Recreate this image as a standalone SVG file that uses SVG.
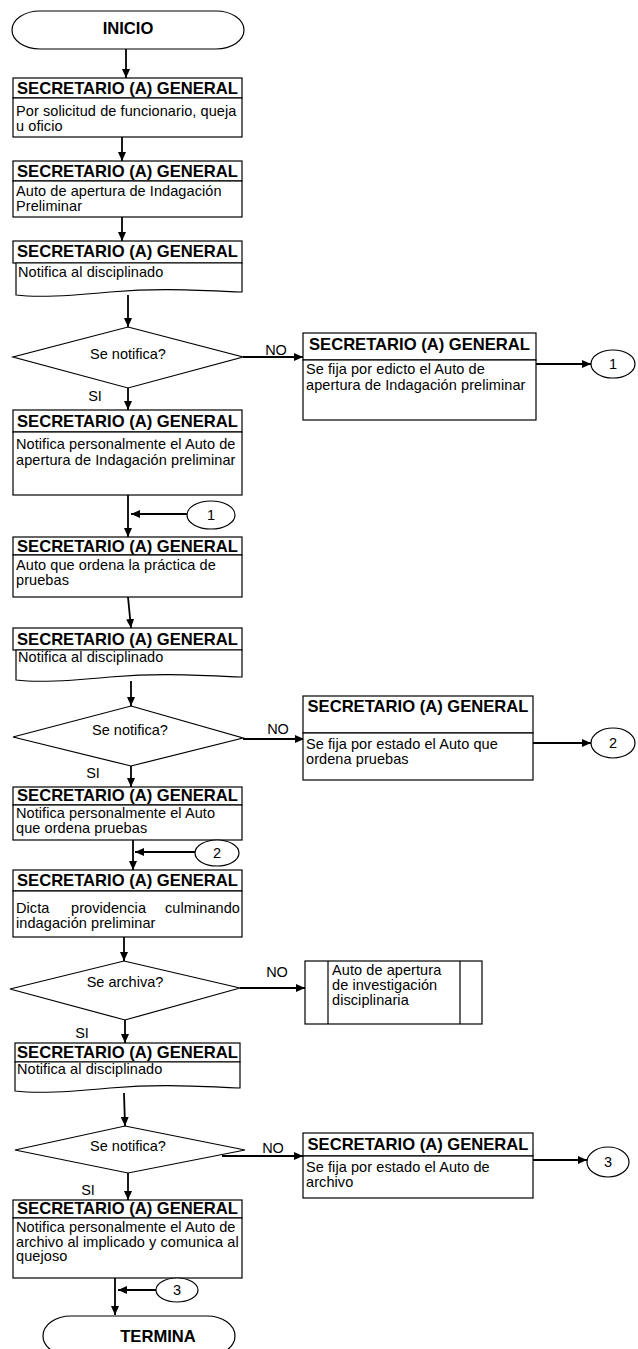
<svg xmlns="http://www.w3.org/2000/svg" width="638" height="1349" viewBox="0 0 638 1349">
<style>
.b{fill:#fff;stroke:#000;stroke-width:1.2}
.h{font-family:"Liberation Sans",Arial,sans-serif;font-weight:bold;font-size:16.6px;text-anchor:middle}
.t{font-family:"Liberation Sans",Arial,sans-serif;font-size:14.5px;letter-spacing:0.08px}
.c{font-family:"Liberation Sans",Arial,sans-serif;font-size:14.5px;text-anchor:middle}
.l{fill:none;stroke:#000;stroke-width:1.8;marker-end:url(#a)}
</style>
<defs>
<marker id="a" viewBox="0 0 9 8" refX="9" refY="4" markerWidth="9" markerHeight="8" markerUnits="userSpaceOnUse" orient="auto"><path d="M0,0 L9,4 L0,8 z" fill="#000"/></marker>
</defs>
<rect width="638" height="1349" fill="#fff"/>

<g id="connectors">
<path class="l" d="M126,49 V78"/>
<path class="l" d="M122,137 V161"/>
<path class="l" d="M122,217 V241"/>
<path class="l" d="M128,295 V327"/>
<path class="l" d="M243,357 H303"/>
<path class="l" d="M536,364 H591"/>
<path class="l" d="M128,388 V410"/>
<path class="l" d="M128,495 V537"/>
<path class="l" d="M188,514 H131"/>
<path class="l" d="M128,597 L131,628"/>
<path class="l" d="M131,681 V706"/>
<path class="l" d="M243,739 H304"/>
<path class="l" d="M533,743 H591"/>
<path class="l" d="M131,766 V787"/>
<path class="l" d="M133,840 V870"/>
<path class="l" d="M195,852 H135"/>
<path class="l" d="M124,937 V961"/>
<path class="l" d="M240,988 H305"/>
<path class="l" d="M125,1020 V1043"/>
<path class="l" d="M124,1093 L125,1126"/>
<path class="l" d="M222,1156 H303"/>
<path class="l" d="M532,1160 H587"/>
<path class="l" d="M128,1173 V1200"/>
<path class="l" d="M115,1278 V1315"/>
<path class="l" d="M156,1290 H118"/>
<text class="c" x="276" y="355">NO</text>
<text class="c" x="95" y="401">SI</text>
<text class="c" x="278" y="734">NO</text>
<text class="c" x="93" y="778">SI</text>
<text class="c" x="277" y="977">NO</text>
<text class="c" x="82" y="1038">SI</text>
<text class="c" x="273" y="1153">NO</text>
<text class="c" x="88" y="1195">SI</text>
</g>

<g id="inicio">
<rect class="b" x="12" y="11" width="232" height="38" rx="28" ry="19"/>
<text class="h" x="128" y="34">INICIO</text>
</g>

<g id="box1">
<rect class="b" x="13" y="78" width="229" height="20"/>
<rect class="b" x="13" y="98" width="229" height="39"/>
<text class="h" x="127.5" y="94">SECRETARIO (A) GENERAL</text>
<text class="t" x="16" y="116">Por solicitud de funcionario, queja</text>
<text class="t" x="16" y="131">u oficio</text>
</g>

<g id="box2">
<rect class="b" x="13" y="161" width="229" height="20"/>
<rect class="b" x="13" y="181" width="229" height="36"/>
<text class="h" x="127.5" y="177">SECRETARIO (A) GENERAL</text>
<text class="t" x="16" y="196">Auto de apertura de Indagación</text>
<text class="t" x="16" y="211">Preliminar</text>
</g>

<g id="box3">
<rect class="b" x="13" y="241" width="229" height="22"/>
<path class="b" d="M16,263 H242 V292 C190,290 160,288 110,292 C70,296 40,298 16,295 Z"/>
<text class="h" x="127.5" y="257">SECRETARIO (A) GENERAL</text>
<text class="t" x="18" y="277">Notifica al disciplinado</text>
</g>

<g id="dec1">
<path class="b" d="M128,327 L243,357 L128,388 L13,357 Z"/>
<text class="c" x="128" y="359">Se notifica?</text>
</g>

<g id="right1">
<rect class="b" x="303" y="333" width="233" height="27"/>
<rect class="b" x="303" y="360" width="233" height="60"/>
<text class="h" x="419.5" y="350">SECRETARIO (A) GENERAL</text>
<text class="t" x="306" y="374">Se fija por edicto el Auto de</text>
<text class="t" x="306" y="390">apertura de Indagación preliminar</text>
</g>

<g id="conn1a">
<ellipse class="b" cx="613" cy="364" rx="22" ry="14"/>
<text class="c" x="613" y="369">1</text>
</g>

<g id="box4">
<rect class="b" x="13" y="410" width="229" height="22"/>
<rect class="b" x="13" y="432" width="229" height="63"/>
<text class="h" x="127.5" y="427">SECRETARIO (A) GENERAL</text>
<text class="t" x="16" y="449">Notifica personalmente el Auto de</text>
<text class="t" x="16" y="465">apertura de Indagación preliminar</text>
</g>

<g id="conn1b">
<ellipse class="b" cx="211" cy="515" rx="24" ry="14"/>
<text class="c" x="211" y="520">1</text>
</g>

<g id="box5">
<rect class="b" x="13" y="537" width="229" height="18"/>
<rect class="b" x="13" y="555" width="229" height="42"/>
<text class="h" x="127.5" y="552">SECRETARIO (A) GENERAL</text>
<text class="t" x="16" y="570">Auto que ordena la práctica de</text>
<text class="t" x="16" y="585">pruebas</text>
</g>

<g id="box6">
<rect class="b" x="13" y="628" width="229" height="22"/>
<path class="b" d="M16,650 H242 V677 C190,675 160,673 110,677 C70,681 40,683 16,680 Z"/>
<text class="h" x="127.5" y="645">SECRETARIO (A) GENERAL</text>
<text class="t" x="18" y="662">Notifica al disciplinado</text>
</g>

<g id="dec2">
<path class="b" d="M131,706 L243,738 L131,766 L13,737 Z"/>
<text class="c" x="130" y="735">Se notifica?</text>
</g>

<g id="right2">
<rect class="b" x="303" y="696" width="230" height="37"/>
<rect class="b" x="303" y="733" width="230" height="47"/>
<text class="h" x="418" y="712">SECRETARIO (A) GENERAL</text>
<text class="t" x="306" y="749">Se fija por estado el Auto que</text>
<text class="t" x="306" y="764">ordena pruebas</text>
</g>

<g id="conn2a">
<ellipse class="b" cx="613" cy="743" rx="22" ry="15"/>
<text class="c" x="613" y="748">2</text>
</g>

<g id="box7">
<rect class="b" x="13" y="787" width="229" height="18"/>
<rect class="b" x="13" y="805" width="229" height="35"/>
<text class="h" x="127.5" y="801">SECRETARIO (A) GENERAL</text>
<text class="t" x="16" y="818">Notifica personalmente el Auto</text>
<text class="t" x="16" y="833">que ordena pruebas</text>
</g>

<g id="conn2b">
<ellipse class="b" cx="217" cy="853" rx="22" ry="13"/>
<text class="c" x="217" y="858">2</text>
</g>

<g id="box8">
<rect class="b" x="13" y="870" width="229" height="21"/>
<rect class="b" x="13" y="891" width="229" height="46"/>
<text class="h" x="127.5" y="886">SECRETARIO (A) GENERAL</text>
<text class="t" x="16" y="913">Dicta</text>
<text class="t" x="71" y="913">providencia</text>
<text class="t" x="240" y="913" text-anchor="end">culminando</text>
<text class="t" x="16" y="928">indagación preliminar</text>
</g>

<g id="dec3">
<path class="b" d="M124,961 L240,988 L125,1020 L10,989 Z"/>
<text class="c" x="125" y="987">Se archiva?</text>
</g>

<g id="subproc">
<rect class="b" x="305" y="961" width="177" height="63"/>
<path class="b" d="M328,961 V1024 M460,961 V1024"/>
<text class="t" x="332" y="975">Auto de apertura</text>
<text class="t" x="332" y="990">de investigación</text>
<text class="t" x="332" y="1005">disciplinaria</text>
</g>

<g id="box9">
<rect class="b" x="15" y="1043" width="225" height="19"/>
<path class="b" d="M15,1062 H240 V1088 C190,1086 160,1084 110,1088 C70,1092 40,1094 15,1091 Z"/>
<text class="h" x="127.5" y="1058">SECRETARIO (A) GENERAL</text>
<text class="t" x="17" y="1074">Notifica al disciplinado</text>
</g>

<g id="dec4">
<path class="b" d="M125,1126 L245,1150 L128,1173 L15,1150 Z"/>
<text class="c" x="128" y="1151">Se notifica?</text>
</g>

<g id="right3">
<rect class="b" x="303" y="1133" width="230" height="23"/>
<rect class="b" x="303" y="1156" width="230" height="42"/>
<text class="h" x="418" y="1150">SECRETARIO (A) GENERAL</text>
<text class="t" x="306" y="1172">Se fija por estado el Auto de</text>
<text class="t" x="306" y="1187">archivo</text>
</g>

<g id="conn3a">
<ellipse class="b" cx="608" cy="1162" rx="21" ry="15"/>
<text class="c" x="608" y="1167">3</text>
</g>

<g id="box10">
<rect class="b" x="13" y="1200" width="229" height="18"/>
<rect class="b" x="13" y="1218" width="229" height="60"/>
<text class="h" x="127.5" y="1214">SECRETARIO (A) GENERAL</text>
<text class="t" x="16" y="1232">Notifica personalmente el Auto de</text>
<text class="t" x="16" y="1247">archivo al implicado y comunica al</text>
<text class="t" x="16" y="1261">quejoso</text>
</g>

<g id="conn3b">
<ellipse class="b" cx="177" cy="1290" rx="21" ry="12"/>
<text class="c" x="177" y="1295">3</text>
</g>

<g id="termina">
<rect class="b" x="43" y="1316" width="192" height="40" rx="28" ry="20"/>
<text class="h" x="158" y="1342">TERMINA</text>
</g>
</svg>
